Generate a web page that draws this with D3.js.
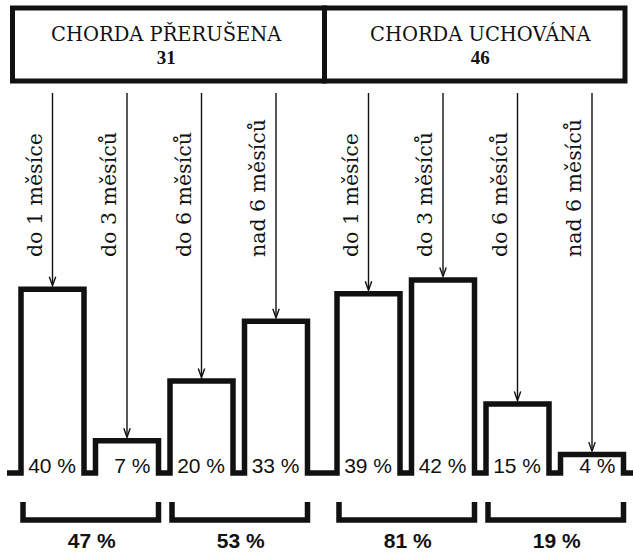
<!DOCTYPE html>
<html>
<head>
<meta charset="utf-8">
<script src="https://cdn.jsdelivr.net/npm/d3@7"></script>
<style>
  html, body { margin: 0; padding: 0; background: #fff; }
  svg { display: block; }
</style>
</head>
<body>
<svg id="chart" width="633" height="554"></svg>
<script>
// ---- data ----
const groups = ["CHORDA PŘERUŠENA", "CHORDA UCHOVÁNA"];
const groupCounts = ["31", "46"];
const periods = ["do 1 měsíce", "do 3 měsíců", "do 6 měsíců", "nad 6 měsíců"];
const valuesPrerusena = [40, 7, 20, 33];
const valuesUchovana = [39, 42, 15, 4];
const subtotals = [47, 53, 81, 19];

// ---- layout ----
const W = 633, H = 554;
const baseY = 473;
const ink = "#111";
const svg = d3.select("#chart");

const groupValues = [valuesPrerusena, valuesUchovana];

const xGroup = d3.scaleBand().domain(groups).range([21, 623.5]).paddingInner(29.5 / 316).paddingOuter(0);
const xBar = d3.scaleBand().domain(periods).range([0, xGroup.bandwidth()]).paddingInner(11.5 / 74.5).paddingOuter(0);
const y = d3.scaleLinear().domain([0, 42]).range([baseY, 280]);

// flat list of bars
const bars = [];
groups.forEach((g, gi) => {
  periods.forEach((p, pi) => {
    const x0 = xGroup(g) + xBar(p);
    bars.push({ g, gi, p, pi, v: groupValues[gi][pi], x0, x1: x0 + xBar.bandwidth() });
  });
});

// ---- header boxes ----
const headerEdges = [12.5, 324.5, 625];
const headerTop = 8, headerBottom = 81;
groups.forEach((g, gi) => {
  svg.append("rect")
    .attr("x", headerEdges[gi]).attr("y", headerTop)
    .attr("width", headerEdges[gi + 1] - headerEdges[gi])
    .attr("height", headerBottom - headerTop)
    .attr("fill", "none").attr("stroke", ink).attr("stroke-width", 5);
  const cx = xGroup(g) + xGroup.bandwidth() / 2 + (gi === 0 ? 2 : 0);
  svg.append("text")
    .attr("x", cx).attr("y", 41)
    .attr("text-anchor", "middle")
    .attr("font-family", "'DejaVu Serif', serif")
    .attr("font-size", 19.5)
    .attr("fill", ink)
    .text(g);
  svg.append("text")
    .attr("x", cx).attr("y", 64)
    .attr("text-anchor", "middle")
    .attr("font-family", "'Liberation Serif', serif")
    .attr("font-weight", "bold")
    .attr("font-size", 19)
    .attr("fill", ink)
    .text(groupCounts[gi]);
});

// ---- bar outline (open-bottom step path) ----
const pts = [[7, baseY]];
bars.forEach(b => {
  pts.push([b.x0, baseY], [b.x0, y(b.v)], [b.x1, y(b.v)], [b.x1, baseY]);
});
pts.push([W, baseY]);
svg.append("path")
  .attr("d", d3.line()(pts))
  .attr("fill", "none")
  .attr("stroke", ink)
  .attr("stroke-width", 5.5)
  .attr("stroke-linejoin", "miter");

// ---- arrows & rotated labels ----
const arrowTop = 93;
bars.forEach(b => {
  const cx = (b.x0 + b.x1) / 2;
  const tip = y(b.v) - 3.5;
  svg.append("line")
    .attr("x1", cx).attr("x2", cx)
    .attr("y1", arrowTop).attr("y2", tip - 2)
    .attr("stroke", ink).attr("stroke-width", 1.4);
  svg.append("path")
    .attr("d", d3.line()([[cx - 3.2, tip - 9], [cx, tip], [cx + 3.2, tip - 9]]))
    .attr("fill", "none").attr("stroke", ink).attr("stroke-width", 1.4);
  svg.append("text")
    .attr("transform", `translate(${cx - 11},257) rotate(-90)`)
    .attr("text-anchor", "start")
    .attr("font-family", "'DejaVu Serif', serif")
    .attr("font-size", 20.5)
    .attr("fill", ink)
    .text(b.p);
  svg.append("text")
    .attr("x", b.x1 - 8).attr("y", baseY)
    .attr("text-anchor", "end")
    .attr("font-family", "'Liberation Sans', Arial, sans-serif")
    .attr("font-size", 21)
    .attr("fill", ink)
    .text(b.v + " %");
});

// ---- bottom brackets ----
const pairs = [];
groups.forEach((g, gi) => {
  [[0, 1], [2, 3]].forEach(([a, c]) => {
    const ba = bars.find(b => b.gi === gi && b.pi === a);
    const bc = bars.find(b => b.gi === gi && b.pi === c);
    pairs.push({ x0: ba.x0 + 2, x1: bc.x1 });
  });
});
pairs.forEach((pr, i) => {
  svg.append("path")
    .attr("d", d3.line()([[pr.x0, 502], [pr.x0, 520], [pr.x1, 520], [pr.x1, 502]]))
    .attr("fill", "none").attr("stroke", ink).attr("stroke-width", 5.5)
    .attr("stroke-linejoin", "miter");
  svg.append("text")
    .attr("x", (pr.x0 + pr.x1) / 2 + 1).attr("y", 548)
    .attr("text-anchor", "middle")
    .attr("font-family", "'Liberation Sans', Arial, sans-serif")
    .attr("font-weight", "bold")
    .attr("font-size", 21)
    .attr("fill", ink)
    .text(subtotals[i] + " %");
});
</script>
</body>
</html>
